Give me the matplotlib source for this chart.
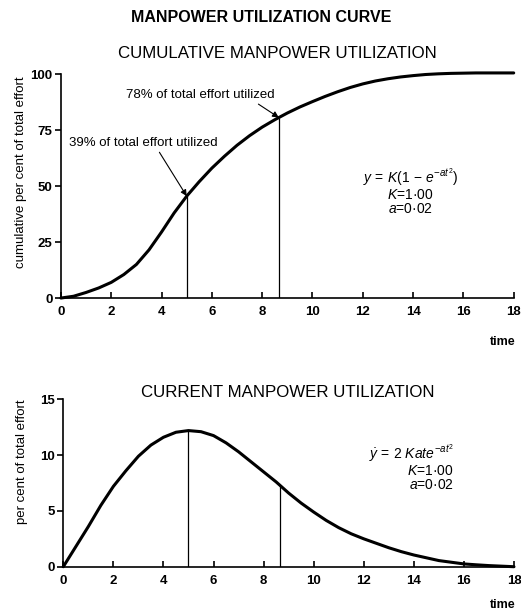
import matplotlib
matplotlib.use("Agg")
import matplotlib.pyplot as plt

# time axis (shared by both curves)
t = [0, 0.5, 1, 1.5, 2, 2.5, 3, 3.5, 4, 4.5, 5, 5.5, 6, 6.5, 7, 7.5, 8, 8.5,
     9, 9.5, 10, 10.5, 11, 11.5, 12, 12.5, 13, 13.5, 14, 14.5, 15, 15.5, 16,
     16.5, 17, 17.5, 18]

# cumulative per cent of total effort
cumulative = [0, 0.8, 2.5, 4.5, 7, 10.5, 15, 21.5, 29.5, 38, 45.5, 52, 58,
              63.3, 68.2, 72.5, 76.3, 79.6, 82.6, 85.3, 87.7, 90, 92.1, 94,
              95.6, 96.9, 97.9, 98.7, 99.3, 99.8, 100.1, 100.3, 100.4, 100.5,
              100.5, 100.5, 100.5]

# current per cent of total effort
current = [0, 1.8, 3.6, 5.5, 7.2, 8.6, 9.9, 10.9, 11.6, 12.05, 12.2, 12.1,
           11.75, 11.1, 10.3, 9.4, 8.5, 7.6, 6.6, 5.7, 4.9, 4.15, 3.5, 2.95,
           2.5, 2.1, 1.7, 1.35, 1.05, 0.8, 0.55, 0.4, 0.25, 0.17, 0.1, 0.05, 0]

# reference times and the curve heights there
mark_t = [5, 8.66]
mark_cum = [45.5, 80.6]
mark_cur = [12.2, 7.3]

plt.rcParams["font.family"] = ["Liberation Sans", "DejaVu Sans"]
plt.rcParams["mathtext.fontset"] = "custom"
plt.rcParams["mathtext.rm"] = "Liberation Sans"
plt.rcParams["mathtext.it"] = "Liberation Sans:italic"


def style_axes(ax, ymax, yticks):
    ax.set_xlim(0, 18)
    ax.set_ylim(0, ymax)
    ax.set_xticks(range(0, 19, 2))
    ax.set_yticks(yticks)
    for side in ("top", "right"):
        ax.spines[side].set_visible(False)
    for side in ("left", "bottom"):
        ax.spines[side].set_linewidth(1.2)
    ax.tick_params(axis="x", direction="in", length=4, width=1.2, pad=6)
    ax.tick_params(axis="y", direction="out", length=4, width=1.2, pad=2)
    for lab in ax.get_xticklabels() + ax.get_yticklabels():
        lab.set_fontsize(9.5)
        lab.set_fontweight("bold")


fig = plt.figure(figsize=(5.21, 6.12), dpi=100)

fig.text(0.501, 0.972, "MANPOWER UTILIZATION CURVE", ha="center",
         va="center", fontsize=11.5, fontweight="bold")

# ---- cumulative curve ----
ax1 = fig.add_axes([0.117, 0.513, 0.869, 0.366])
ax1.plot(t, cumulative, color="black", linewidth=2.2, solid_capstyle="round",
         solid_joinstyle="round", clip_on=False)
ax1.vlines(mark_t, 0, mark_cum, color="black", linewidth=0.9)
style_axes(ax1, 100, [0, 25, 50, 75, 100])
ax1.set_ylabel("cumulative per cent of total effort", fontsize=9.5)
ax1.yaxis.set_label_coords(-0.075, 0.56)
fig.text(0.533, 0.913, "CUMULATIVE MANPOWER UTILIZATION", ha="center",
         va="center", fontsize=12.2)

ax1.annotate("39% of total effort utilized", xy=(mark_t[0], mark_cum[0]),
             xytext=(0.3, 69), fontsize=9.5, ha="left", va="center",
             arrowprops=dict(arrowstyle="-|>", color="black", lw=0.8,
                             mutation_scale=9, shrinkA=0, shrinkB=0,
                             relpos=(0.6, 0)))
ax1.annotate("78% of total effort utilized", xy=(mark_t[1], mark_cum[1]),
             xytext=(2.6, 90.5), fontsize=9.5, ha="left", va="center",
             arrowprops=dict(arrowstyle="-|>", color="black", lw=0.8,
                             mutation_scale=9, shrinkA=0, shrinkB=0,
                             relpos=(0.86, 0)))

ax1.text(13.9, 47.5,
         "$y\\,=\\,K(1\\,-\\,e^{-at^2})$\n$K$=1·00\n$a$=0·02",
         ha="center", va="center", multialignment="center", fontsize=10,
         linespacing=1.0)
fig.text(0.965, 0.441, "time", ha="center", va="center", fontsize=9,
         fontweight="bold")

# ---- current curve ----
ax2 = fig.add_axes([0.1215, 0.074, 0.865, 0.2735])
ax2.plot(t, current, color="black", linewidth=2.2, solid_capstyle="round",
         solid_joinstyle="round", clip_on=False)
ax2.vlines(mark_t, 0, mark_cur, color="black", linewidth=0.9)
style_axes(ax2, 15, [0, 5, 10, 15])
ax2.set_ylabel("per cent of total effort", fontsize=9.5)
ax2.yaxis.set_label_coords(-0.078, 0.625)
fig.text(0.552, 0.358, "CURRENT MANPOWER UTILIZATION", ha="center",
         va="center", fontsize=12.2)

ax2.text(15.6, 8.95,
         "$\\dot{y}\\,=\\,2\\ Kate^{-at^2}$\n$K$=1·00\n$a$=0·02",
         ha="right", va="center", multialignment="right", fontsize=10,
         linespacing=1.0)
fig.text(0.965, 0.012, "time", ha="center", va="center", fontsize=9,
         fontweight="bold")

fig.savefig("out.png", dpi=100)
